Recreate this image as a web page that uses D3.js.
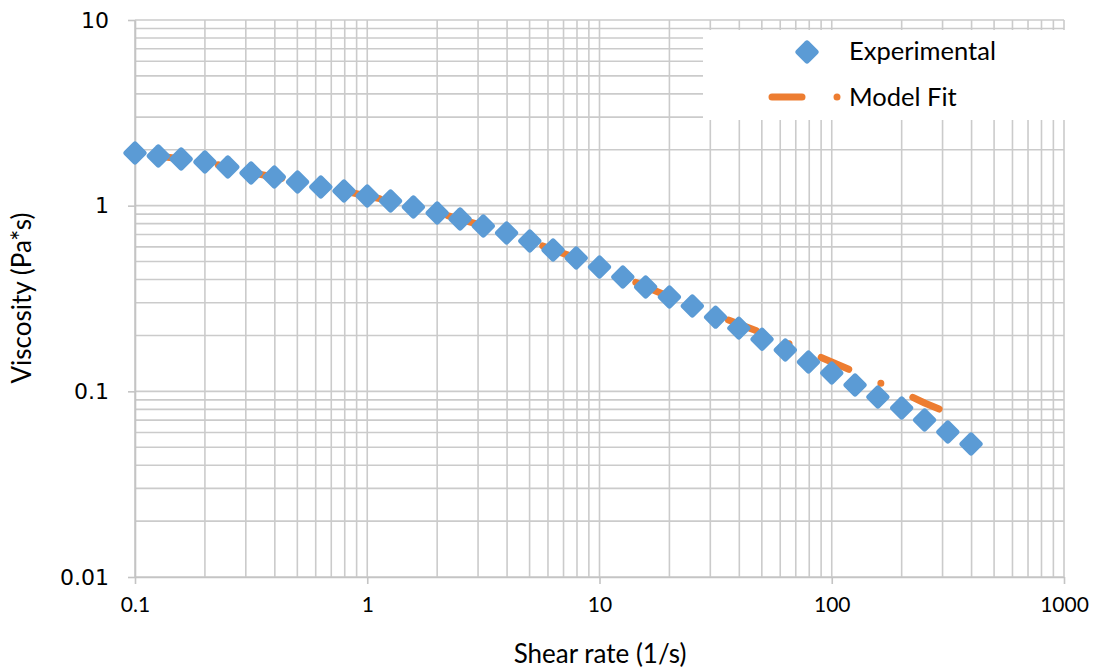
<!DOCTYPE html>
<html>
<head>
<meta charset="utf-8">
<script src="https://cdn.jsdelivr.net/npm/d3@7"></script>
<style>
  html, body { margin: 0; padding: 0; background: #fff; }
  svg { display: block; }
  text { font-family: Lato, "Open Sans", sans-serif; fill: #000; }
</style>
</head>
<body>
<svg id="chart" width="1098" height="671"></svg>
<script>
// Flow curve: shear rate (1/s) vs viscosity (Pa*s)
const shearRate = [
  0.1, 0.126, 0.158, 0.2, 0.251, 0.316, 0.398, 0.501, 0.631, 0.794,
  1, 1.26, 1.58, 2, 2.51, 3.16, 3.98, 5.01, 6.31, 7.94,
  10, 12.6, 15.8, 20, 25.1, 31.6, 39.8, 50.1, 63.1, 79.4,
  100, 126, 158, 200, 251, 316, 398
];
const viscosityExp = [
  1.921, 1.852, 1.784, 1.719, 1.616, 1.500, 1.427, 1.341, 1.261, 1.199,
  1.127, 1.060, 0.984, 0.913, 0.848, 0.777, 0.712, 0.645, 0.577, 0.522,
  0.467, 0.413, 0.365, 0.322, 0.288, 0.251, 0.219, 0.191, 0.167, 0.144,
  0.1256, 0.1082, 0.0932, 0.0813, 0.0701, 0.0604, 0.0520
];
const modelRate = [
  0.1, 0.126, 0.158, 0.2, 0.251, 0.316, 0.398, 0.501, 0.631, 0.794,
  1, 1.26, 1.58, 2, 2.51, 3.16, 3.98, 5.01, 6.31, 7.94,
  10, 12.6, 15.8, 20, 25.1, 31.6, 39.8, 50.1, 63.1, 79.4,
  100, 126, 158, 200, 251, 290
];
const viscosityModel = [
  1.915, 1.850, 1.785, 1.718, 1.618, 1.505, 1.428, 1.343, 1.262, 1.198,
  1.128, 1.058, 0.985, 0.914, 0.847, 0.778, 0.713, 0.646, 0.578, 0.523,
  0.468, 0.414, 0.366, 0.323, 0.291, 0.2577, 0.2305, 0.2062, 0.1843, 0.1628,
  0.1439, 0.1271, 0.1123, 0.0992, 0.0865, 0.0803
];
const xTickValues = [0.1, 1, 10, 100, 1000];
const xTickLabels = ["0.1", "1", "10", "100", "1000"];
const yTickValues = [0.01, 0.1, 1, 10];
const yTickLabels = ["0.01", "0.1", "1", "10"];
const seriesNames = ["Experimental", "Model Fit"];

const BLUE = "#5b9bd5", ORANGE = "#ed7d31", GRID = "#cbcbcb";

const svg = d3.select("#chart");
const plotLeft = 135, plotRight = 1064, plotTop = 20, plotBottom = 577;

const x = d3.scaleLog().domain([0.1, 1000]).range([plotLeft, plotRight]);
const y = d3.scaleLog().domain([0.01, 10]).range([plotBottom, plotTop]);

// minor + major gridlines (1..9 per decade)
const xGrid = d3.range(-1, 3).flatMap(e => d3.range(1, 10).map(m => m * Math.pow(10, e))).concat([1000]);
const yGrid = d3.range(-2, 1).flatMap(e => d3.range(1, 10).map(m => m * Math.pow(10, e))).concat([10]);

const grid = svg.append("g");
grid.selectAll("line.gx").data(xGrid).join("line")
  .attr("x1", d => x(d)).attr("x2", d => x(d))
  .attr("y1", plotTop).attr("y2", plotBottom)
  .attr("stroke", GRID).attr("stroke-width", 1.6);
grid.selectAll("line.gy").data(yGrid).join("line")
  .attr("x1", plotLeft).attr("x2", plotRight)
  .attr("y1", d => y(d)).attr("y2", d => y(d))
  .attr("stroke", GRID).attr("stroke-width", 1.6);

// axes
const xAxis = d3.axisBottom(x).tickValues(xTickValues)
  .tickFormat((d, i) => xTickLabels[i]).tickSize(7).tickSizeOuter(0).tickPadding(13);
const yAxis = d3.axisLeft(y).tickValues(yTickValues)
  .tickFormat((d, i) => yTickLabels[i]).tickSize(7).tickSizeOuter(0).tickPadding(19);

const gx = svg.append("g").attr("transform", `translate(0,${plotBottom})`).call(xAxis);
const gy = svg.append("g").attr("transform", `translate(${plotLeft},0)`).call(yAxis);
[gx, gy].forEach(g => {
  g.select(".domain").attr("stroke", "#c4c4c4").attr("stroke-width", 1.6);
  g.selectAll(".tick line").attr("stroke", "#c4c4c4").attr("stroke-width", 1.6);
  g.selectAll(".tick text").attr("fill", "#000");
});
gx.selectAll(".tick text").style("font-family", "Lato, sans-serif").style("font-size", "21px");
gy.selectAll(".tick text").style("font-family", "'DejaVu Sans', sans-serif").style("font-size", "22px");

// model fit line (long dash - dot)
const dashPattern = "30,35,0,35";
const line = d3.line().x(d => x(d[0])).y(d => y(d[1]));
svg.append("path")
  .datum(modelRate.map((r, i) => [r, viscosityModel[i]]))
  .attr("d", line)
  .attr("fill", "none").attr("stroke", ORANGE).attr("stroke-width", 7)
  .attr("stroke-linecap", "round").attr("stroke-linejoin", "round")
  .attr("stroke-dasharray", dashPattern).attr("stroke-dashoffset", 81);

// experimental points: rounded diamonds
const side = 18;
function diamond(sel) {
  return sel.append("rect")
    .attr("x", -side / 2).attr("y", -side / 2)
    .attr("width", side).attr("height", side)
    .attr("rx", 2.8).attr("ry", 2.8)
    .attr("transform", "rotate(45)")
    .attr("fill", BLUE);
}
svg.append("g").selectAll("g").data(shearRate.map((r, i) => [r, viscosityExp[i]])).join("g")
  .attr("transform", d => `translate(${x(d[0])},${y(d[1])})`)
  .each(function () { diamond(d3.select(this)); });

// legend
const lg = svg.append("g");
lg.append("rect").attr("x", 703).attr("y", 30).attr("width", 363).attr("height", 90).attr("fill", "#fff");
diamond(lg.append("g").attr("transform", "translate(807,52)"));
lg.append("path").attr("d", "M772,97L838,97")
  .attr("fill", "none").attr("stroke", ORANGE).attr("stroke-width", 7)
  .attr("stroke-linecap", "round").attr("stroke-dasharray", dashPattern);
lg.append("text").attr("x", 849).attr("y", 60).style("font-size", "25.5px").text(seriesNames[0]);
lg.append("text").attr("x", 849).attr("y", 106).style("font-size", "25.5px").text(seriesNames[1]);

// axis titles
svg.append("text").attr("x", 600).attr("y", 663)
  .attr("text-anchor", "middle").style("font-size", "26px").text("Shear rate (1/s)");
svg.append("text").attr("transform", `translate(31,298) rotate(-90)`)
  .attr("text-anchor", "middle").style("font-size", "26px").text("Viscosity (Pa*s)");
</script>
</body>
</html>
